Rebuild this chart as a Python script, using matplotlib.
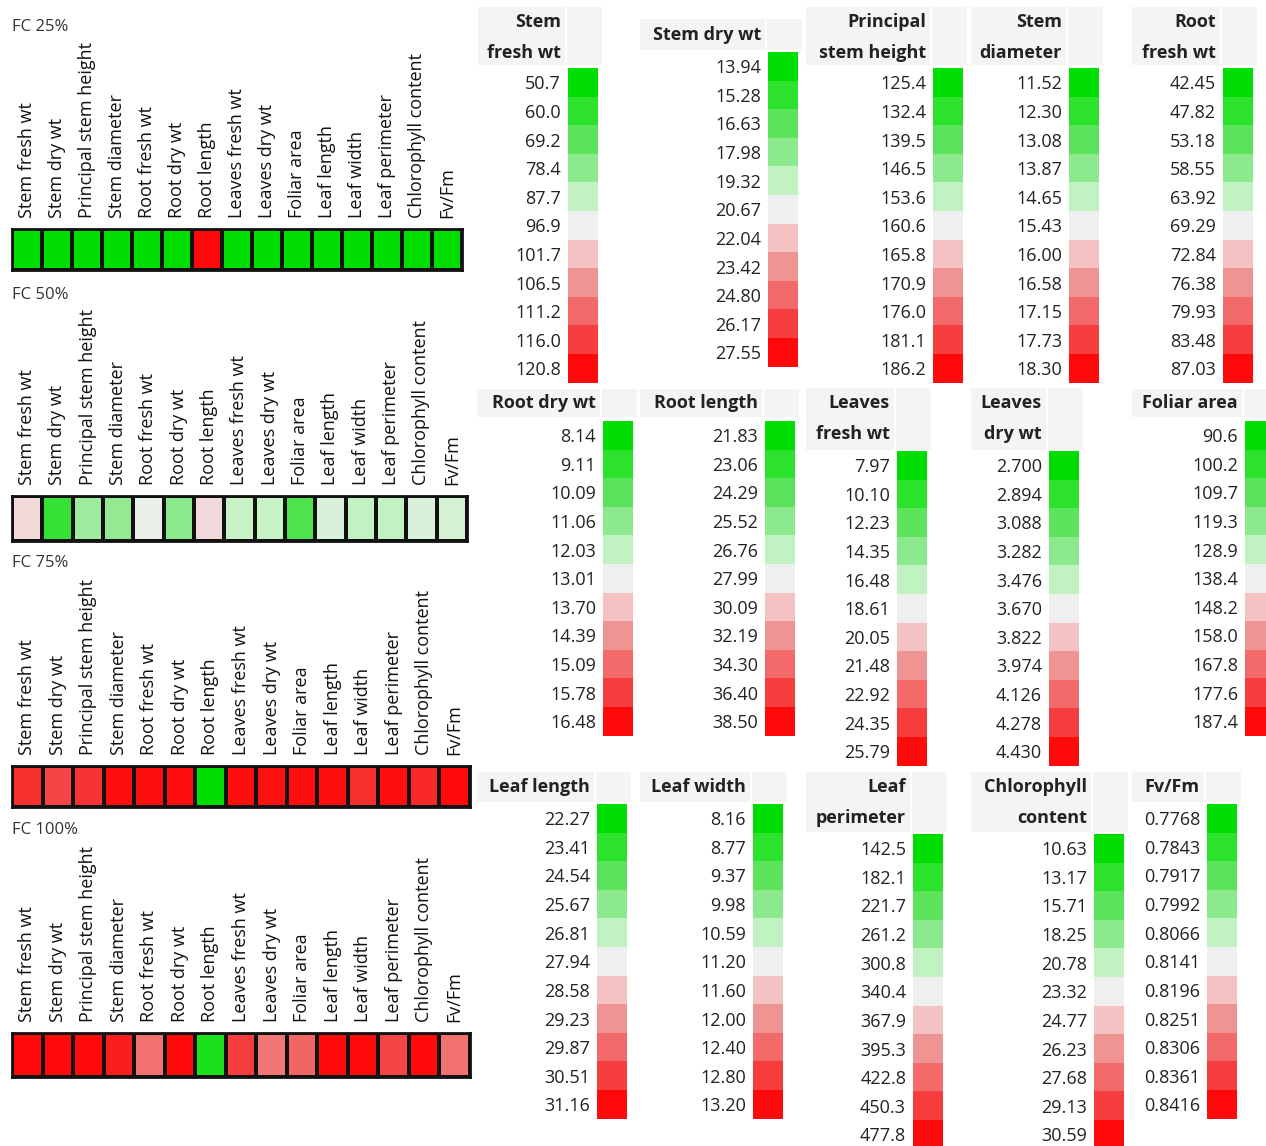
import numpy as np
import matplotlib
matplotlib.use("Agg")
import matplotlib.pyplot as plt
from matplotlib.colors import LinearSegmentedColormap
from matplotlib.patches import Rectangle

plt.rcParams['font.family'] = ['Open Sans', 'DejaVu Sans']

# traits (order of the heat-map columns)
traits = ['Stem fresh wt', 'Stem dry wt', 'Principal stem height', 'Stem diameter',
          'Root fresh wt', 'Root dry wt', 'Root length', 'Leaves fresh wt',
          'Leaves dry wt', 'Foliar area', 'Leaf length', 'Leaf width',
          'Leaf perimeter', 'Chlorophyll content', 'Fv/Fm']

# legend scale values per trait (green -> white -> red)
scale_stem_fresh = [50.7, 60.0, 69.2, 78.4, 87.7, 96.9, 101.7, 106.5, 111.2, 116.0, 120.8]
scale_stem_dry = [13.94, 15.28, 16.63, 17.98, 19.32, 20.67, 22.04, 23.42, 24.80, 26.17, 27.55]
scale_stem_height = [125.4, 132.4, 139.5, 146.5, 153.6, 160.6, 165.8, 170.9, 176.0, 181.1, 186.2]
scale_stem_diam = [11.52, 12.30, 13.08, 13.87, 14.65, 15.43, 16.00, 16.58, 17.15, 17.73, 18.30]
scale_root_fresh = [42.45, 47.82, 53.18, 58.55, 63.92, 69.29, 72.84, 76.38, 79.93, 83.48, 87.03]
scale_root_dry = [8.14, 9.11, 10.09, 11.06, 12.03, 13.01, 13.70, 14.39, 15.09, 15.78, 16.48]
scale_root_len = [21.83, 23.06, 24.29, 25.52, 26.76, 27.99, 30.09, 32.19, 34.30, 36.40, 38.50]
scale_leaves_fresh = [7.97, 10.10, 12.23, 14.35, 16.48, 18.61, 20.05, 21.48, 22.92, 24.35, 25.79]
scale_leaves_dry = [2.700, 2.894, 3.088, 3.282, 3.476, 3.670, 3.822, 3.974, 4.126, 4.278, 4.430]
scale_foliar = [90.6, 100.2, 109.7, 119.3, 128.9, 138.4, 148.2, 158.0, 167.8, 177.6, 187.4]
scale_leaf_len = [22.27, 23.41, 24.54, 25.67, 26.81, 27.94, 28.58, 29.23, 29.87, 30.51, 31.16]
scale_leaf_width = [8.16, 8.77, 9.37, 9.98, 10.59, 11.20, 11.60, 12.00, 12.40, 12.80, 13.20]
scale_leaf_perim = [142.5, 182.1, 221.7, 261.2, 300.8, 340.4, 367.9, 395.3, 422.8, 450.3, 477.8]
scale_chloro = [10.63, 13.17, 15.71, 18.25, 20.78, 23.32, 24.77, 26.23, 27.68, 29.13, 30.59]
scale_fvfm = [0.7768, 0.7843, 0.7917, 0.7992, 0.8066, 0.8141, 0.8196, 0.8251, 0.8306, 0.8361, 0.8416]

scales = [scale_stem_fresh, scale_stem_dry, scale_stem_height, scale_stem_diam,
          scale_root_fresh, scale_root_dry, scale_root_len, scale_leaves_fresh,
          scale_leaves_dry, scale_foliar, scale_leaf_len, scale_leaf_width,
          scale_leaf_perim, scale_chloro, scale_fvfm]
decimals = [1, 2, 1, 2, 2, 2, 2, 2, 3, 1, 2, 2, 1, 2, 4]

# treatment values
treatments = ['FC 25%', 'FC 50%', 'FC 75%', 'FC 100%']
fc25 = [50.7, 13.94, 125.4, 11.52, 42.45, 8.14, 38.50, 7.97, 2.700, 90.6, 22.27, 8.16, 142.5, 10.63, 0.7768]
fc50 = [99.3, 15.55, 148.9, 13.95, 68.5, 11.06, 29.04, 16.69, 3.495, 106.9, 27.38, 10.59, 300.8, 22.05, 0.8096]
fc75 = [117.4, 25.90, 182.1, 18.24, 86.7, 16.41, 21.83, 25.65, 4.41, 186.4, 31.10, 12.92, 475.0, 29.71, 0.8416]
fc100 = [120.8, 27.55, 186.2, 18.07, 79.22, 16.48, 22.57, 24.35, 4.08, 168.8, 31.16, 13.20, 444.8, 30.59, 0.8295]
fc_values = [fc25, fc50, fc75, fc100]

colors = ['#00dd00', '#2ee22e', '#5ce35c', '#8ee98e', '#c2f2c2', '#f0f0f0',
          '#f4c2c2', '#f09494', '#f26a6a', '#f53e3e', '#ff0a0a']
cmap = LinearSegmentedColormap.from_list('gwr', colors)

W, H = 1266, 1146
fig = plt.figure(figsize=(W / 100, H / 100), dpi=100)


def px_axes(x0, y0, x1, y1, z=2):
    return fig.add_axes([x0 / W, 1 - y1 / H, (x1 - x0) / W, (y1 - y0) / H], zorder=z)


bg = px_axes(0, 0, W, H, z=0)
bg.set_xlim(0, W)
bg.set_ylim(H, 0)
bg.axis('off')

# ---- left: heat-map rows ----
row_boxes = [(12, 229, 462, 270), (12, 496, 467, 541), (12, 766, 470, 807), (12, 1033, 470, 1077)]
label_y = [27, 295, 563, 830]
for name, vals, box, ly in zip(treatments, fc_values, row_boxes, label_y):
    ax = px_axes(*box)
    levels = [np.interp(v, s, np.arange(11)) for v, s in zip(vals, scales)]
    ax.pcolormesh(np.array(levels)[None, :], cmap=cmap, vmin=0, vmax=10,
                  edgecolors='#111111', linewidth=1.6)
    ax.set_xlim(0, 15)
    ax.set_ylim(0, 1)
    ax.xaxis.tick_top()
    ax.set_xticks(np.arange(15) + 0.5)
    ax.set_xticklabels(traits, rotation=90, fontsize=13, color='#111111')
    ax.tick_params(axis='x', length=0, pad=8)
    ax.set_yticks([])
    for sp in ax.spines.values():
        sp.set_linewidth(2)
        sp.set_color('#111111')
    bg.text(12, ly, name, fontsize=12, color='#333333', ha='left', va='center')

# ---- right: legends ----
titles = ['Stem\nfresh wt', 'Stem dry wt', 'Principal\nstem height', 'Stem\ndiameter',
          'Root\nfresh wt', 'Root dry wt', 'Root length', 'Leaves\nfresh wt',
          'Leaves\ndry wt', 'Foliar area', 'Leaf length', 'Leaf width',
          'Leaf\nperimeter', 'Chlorophyll\ncontent', 'Fv/Fm']
# swatch x, swatch top, title box left, title box top, title box bottom
legend_pos = [(568, 68, 478, 7, 65), (768, 52, 640, 19, 50), (933, 68, 806, 7, 65),
              (1069, 68, 971, 7, 65), (1223, 68, 1132, 7, 65),
              (603, 421, 477, 389, 417), (765, 421, 640, 389, 417), (897, 451, 806, 388, 450),
              (1049, 451, 971, 388, 450), (1245, 421, 1132, 389, 417),
              (597, 804, 477, 772, 802), (753, 804, 640, 772, 802), (913, 834, 806, 772, 832),
              (1094, 834, 971, 772, 832), (1207, 804, 1132, 772, 802)]
cell_h = 28.6
for title, sc, dec, (sx, sy, tx, ty0, ty1) in zip(titles, scales, decimals, legend_pos):
    bg.add_patch(Rectangle((tx, ty0), sx - 3 - tx, ty1 - ty0, color='#f4f4f2', lw=0))
    bg.add_patch(Rectangle((sx - 1, ty0), 35, ty1 - ty0, color='#f4f4f2', lw=0))
    lines = title.split('\n')
    if len(lines) == 1:
        bg.text(sx - 7, (ty0 + ty1) / 2, lines[0], ha='right', va='center',
                fontsize=13, fontweight='bold', color='#222222')
    else:
        bg.text(sx - 7, ty0 + 15, lines[0], ha='right', va='center',
                fontsize=13, fontweight='bold', color='#222222')
        bg.text(sx - 7, ty0 + 46, lines[1], ha='right', va='center',
                fontsize=13, fontweight='bold', color='#222222')
    ax = px_axes(sx, sy, sx + 30, sy + 11 * cell_h)
    ax.pcolormesh(np.arange(11)[:, None], cmap=cmap, vmin=0, vmax=10)
    ax.set_ylim(11, 0)
    ax.set_xlim(0, 1)
    ax.set_xticks([])
    ax.set_yticks(np.arange(11) + 0.5)
    ax.set_yticklabels([f'{v:.{dec}f}' for v in sc], fontsize=13, color='#222222')
    ax.tick_params(axis='y', length=0, pad=5)
    for sp in ax.spines.values():
        sp.set_visible(False)

fig.savefig('out.png', dpi=100)
